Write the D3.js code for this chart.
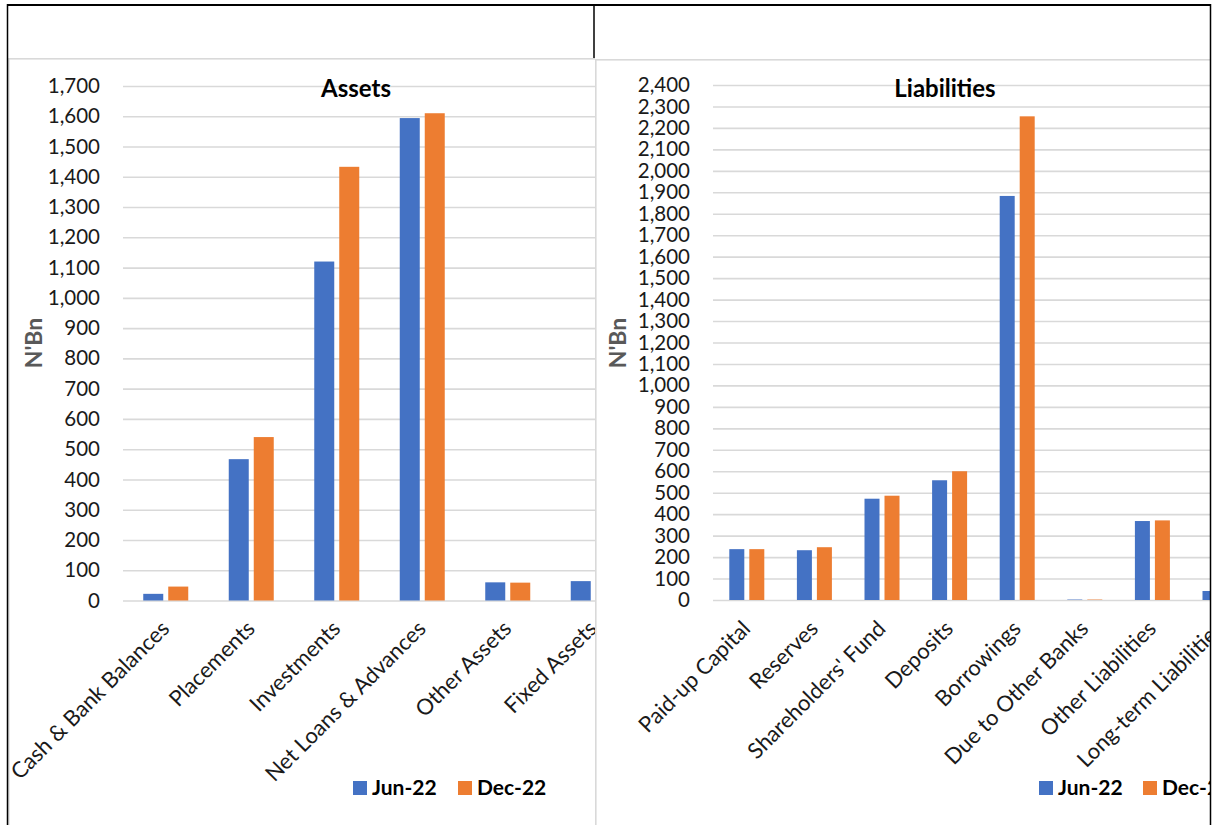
<!DOCTYPE html>
<html><head><meta charset="utf-8">
<script src="https://cdn.jsdelivr.net/npm/d3@7"></script>
<style>
body{margin:0;background:#fff}
svg{display:block}
text{font-family:Lato,"Open Sans","Noto Sans",sans-serif}
</style>
</head><body>
<svg id="c" width="1216" height="825"></svg>
<script>
const seriesNames = ["Jun-22", "Dec-22"];
const seriesColors = ["#4472C4", "#ED7D31"];

const assetCategories = ["Cash & Bank Balances", "Placements", "Investments", "Net Loans & Advances", "Other Assets", "Fixed Assets"];
const assetJun = [22, 467, 1120, 1594, 60, 64];
const assetDec = [46, 540, 1433, 1610, 59, 66];
const assetTicks = d3.range(0, 1701, 100);

const liabCategories = ["Paid-up Capital", "Reserves", "Shareholders' Fund", "Deposits", "Borrowings", "Due to Other Banks", "Other Liabilities", "Long-term Liabilities"];
const liabJun = [237, 232, 472, 558, 1883, 2, 368, 42];
const liabDec = [237, 246, 486, 600, 2254, 2, 371, 45];
const liabTicks = d3.range(0, 2401, 100);

const svg = d3.select("#c");
svg.append("rect").attr("width", 1216).attr("height", 825).attr("fill", "#fff");

function drawChart(cfg) {
  const clipId = "clip-" + cfg.id;
  svg.append("clipPath").attr("id", clipId).append("rect")
    .attr("x", cfg.clip[0]).attr("y", cfg.clip[1]).attr("width", cfg.clip[2]).attr("height", cfg.clip[3]);
  const g = svg.append("g").attr("clip-path", `url(#${clipId})`);
  g.append("rect").attr("x", cfg.clip[0]).attr("y", cfg.clip[1]).attr("width", cfg.clip[2]).attr("height", cfg.clip[3]).attr("fill", "#fff");

  const n = cfg.categories.length;
  const x = d3.scaleBand().domain(cfg.categories).range([cfg.x0, cfg.x0 + n * cfg.band]).padding(0);
  const span = 2 * cfg.barW + cfg.gap;
  const xs = d3.scaleBand().domain(seriesNames).range([0, span]).paddingInner(cfg.gap / (cfg.barW + cfg.gap)).paddingOuter(0);
  const y = d3.scaleLinear().domain([0, cfg.max]).range([cfg.yBase, cfg.yTop]);

  // gridlines
  const grid = g.append("g").attr("transform", `translate(${cfg.x0},0)`)
    .call(d3.axisLeft(y).tickValues(cfg.ticks).tickSize(-(n * cfg.band)).tickFormat(""));
  grid.select(".domain").remove();
  grid.selectAll(".tick line").attr("stroke", "#d9d9d9").attr("stroke-width", 1.6);

  // y labels
  const ya = g.append("g").attr("transform", `translate(${cfg.labelRight},0)`)
    .call(d3.axisLeft(y).tickValues(cfg.ticks).tickSize(0).tickPadding(0).tickFormat(d3.format(",")));
  ya.select(".domain").remove();
  ya.selectAll("text").attr("font-size", 20.5).attr("fill", "#1a1a1a").attr("font-family", "Lato");

  // bars
  const data = cfg.categories.map((c, i) => ({ c, vals: [cfg.jun[i], cfg.dec[i]] }));
  const groups = g.append("g").selectAll("g").data(data).join("g")
    .attr("transform", d => `translate(${x(d.c) + x.bandwidth() / 2 - span / 2},0)`);
  groups.selectAll("rect").data(d => d.vals.map((v, k) => ({ s: seriesNames[k], v, k }))).join("rect")
    .attr("x", d => xs(d.s)).attr("width", xs.bandwidth())
    .attr("y", d => y(d.v)).attr("height", d => y(0) - y(d.v))
    .attr("fill", d => seriesColors[d.k]);

  // x labels
  const xa = g.append("g").attr("transform", `translate(0,${cfg.yBase})`)
    .call(d3.axisBottom(x).tickSize(0));
  xa.select(".domain").remove();
  xa.selectAll("text")
    .attr("y", 0).attr("dy", 0).attr("x", 0)
    .attr("text-anchor", "end")
    .attr("transform", `translate(${cfg.lblDx},${cfg.lblDy - cfg.yBase}) rotate(-45)`)
    .attr("font-size", 22).attr("fill", "#1a1a1a").attr("font-family", "Lato");

  // title
  g.append("text").attr("x", cfg.titleX).attr("y", 97).attr("text-anchor", "middle")
    .attr("font-size", 24).attr("font-weight", 700).attr("fill", "#000").text(cfg.title);

  // axis title
  g.append("text").attr("transform", `translate(${cfg.axisTitleX},343) rotate(-90)`)
    .attr("text-anchor", "middle").attr("font-size", 23).attr("font-weight", 700)
    .attr("fill", "#595959").text("N'Bn");

  // legend
  const lg = g.append("g").selectAll("g").data(seriesNames).join("g")
    .attr("transform", (d, i) => `translate(${cfg.legendX[i]},781)`);
  lg.append("rect").attr("width", 14).attr("height", 14).attr("fill", (d, i) => seriesColors[i]);
  lg.append("text").attr("x", 19).attr("y", 14).attr("font-size", 21).attr("font-weight", 700)
    .attr("fill", "#000").text(d => d);

  // chart border
  g.append("rect").attr("x", cfg.clip[0] + 0.8).attr("y", cfg.clip[1] + 0.8)
    .attr("width", cfg.clip[2] + 20).attr("height", cfg.clip[3] + 20)
    .attr("fill", "none").attr("stroke", "#d9d9d9").attr("stroke-width", 1.6);
}

drawChart({
  id: "a", clip: [8, 58, 587, 767],
  categories: assetCategories, jun: assetJun, dec: assetDec, ticks: assetTicks, max: 1700,
  x0: 123, band: 85.5, barW: 20, gap: 5, yBase: 600.5, yTop: 86,
  labelRight: 100, lblDx: 5, lblDy: 630, titleX: 356, title: "Assets",
  axisTitleX: 42, legendX: [353, 458]
});

drawChart({
  id: "l", clip: [595, 59, 616, 766],
  categories: liabCategories, jun: liabJun, dec: liabDec, ticks: liabTicks, max: 2400,
  x0: 713, band: 67.6, barW: 15, gap: 5, yBase: 600, yTop: 85,
  labelRight: 690, lblDx: 5, lblDy: 630, titleX: 945, title: "Liabilities",
  axisTitleX: 626, legendX: [1039, 1143]
});

// table borders
const b = svg.append("g").attr("stroke", "#000");
b.append("line").attr("x1", 7).attr("x2", 1211).attr("y1", 5).attr("y2", 5).attr("stroke-width", 2);
b.append("line").attr("x1", 7.5).attr("x2", 7.5).attr("y1", 4).attr("y2", 825).attr("stroke-width", 1.5);
b.append("line").attr("x1", 594).attr("x2", 594).attr("y1", 4).attr("y2", 58).attr("stroke-width", 1.5);
b.append("line").attr("x1", 1210.5).attr("x2", 1210.5).attr("y1", 4).attr("y2", 825).attr("stroke-width", 1.5);
</script>
</body></html>
